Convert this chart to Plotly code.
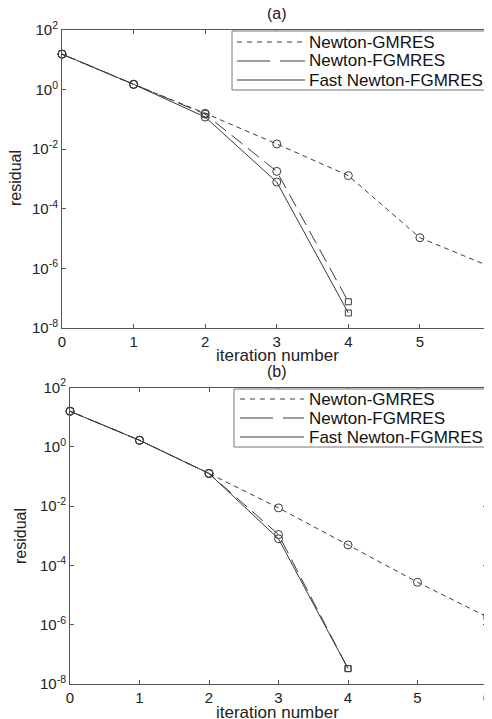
import plotly.graph_objects as go

W, H = 492, 719
OFF = 8  # page body margin offset

iters = [0, 1, 2, 3, 4, 5, 6]
iters_short = [0, 1, 2, 3, 4]

# panel (a)
a_gmres = [15.5, 1.5, 0.16, 0.015, 1.3e-3, 1.07e-5, 1.1e-6]
a_fgmres = [15.5, 1.5, 0.15, 1.8e-3, 7.6e-8]
a_fast = [15.5, 1.5, 0.12, 7.9e-4, 3.2e-8]

# panel (b)
b_gmres = [15.8, 1.66, 0.126, 8.7e-3, 4.9e-4, 2.7e-5, 1.85e-6]
b_fgmres = [15.8, 1.66, 0.126, 1.1e-3, 3.3e-8]
b_fast = [15.8, 1.66, 0.126, 7.9e-4, 3.3e-8]

series_names = ["Newton-GMRES", "Newton-FGMRES", "Fast Newton-FGMRES"]
panel_titles = ["(a)", "(b)"]
x_label = "iteration number"
y_label = "residual"
x_ticks = [0, 1, 2, 3, 4, 5, 6]
y_tickvals = [1e-8, 1e-6, 1e-4, 1e-2, 1e0, 1e2]
y_ticktext = ["10<sup>-8</sup>", "10<sup>-6</sup>", "10<sup>-4</sup>",
              "10<sup>-2</sup>", "10<sup>0</sup>", "10<sup>2</sup>"]

LC = "#3a3a3a"
AX = "#555555"
FONT = "Liberation Sans, Arial, sans-serif"

fig = go.Figure()

def add_panel(xs_g, g, xs_f, f, fa, xa, ya):
    dashes = ["5px,4px", "14px,7px", "solid"]
    data = [(xs_g, g), (xs_f, f), (xs_f, fa)]
    for (xs, ys), d in zip(data, dashes):
        fig.add_trace(go.Scatter(
            x=xs, y=ys, mode="lines", xaxis=xa, yaxis=ya,
            line=dict(color=LC, width=1, dash=d), showlegend=False,
            cliponaxis=False))
        fig.add_trace(go.Scatter(
            x=xs[:-1], y=ys[:-1], mode="markers", xaxis=xa, yaxis=ya,
            marker=dict(symbol="circle-open", size=8, color=LC,
                        line=dict(width=1, color=LC)),
            showlegend=False, cliponaxis=False))
        fig.add_trace(go.Scatter(
            x=xs[-1:], y=ys[-1:], mode="markers", xaxis=xa, yaxis=ya,
            marker=dict(symbol="square-open", size=6, color=LC,
                        line=dict(width=1, color=LC)),
            showlegend=False, cliponaxis=False))

add_panel(iters, a_gmres, iters_short, a_fgmres, a_fast, "x", "y")
add_panel(iters, b_gmres, iters_short, b_fgmres, b_fast, "x2", "y2")

def px_x(p):
    return (p - OFF) / W

def px_y(p):
    return 1 - (p - OFF) / H

axis_common = dict(showline=True, linecolor=AX, linewidth=1, mirror="ticks",
                   ticks="inside", ticklen=4, tickcolor=AX, showgrid=False,
                   zeroline=False, automargin=False,
                   tickfont=dict(family=FONT, size=15, color="#222"))

fig.update_layout(
    width=W, height=H,
    margin=dict(l=0, r=0, t=0, b=0),
    paper_bgcolor="white", plot_bgcolor="white",
    showlegend=False,
    font=dict(family=FONT, color="#222"),
    xaxis=dict(domain=[px_x(62), px_x(491.5)], range=[0, 6],
               tickvals=x_ticks, anchor="y", **axis_common),
    yaxis=dict(domain=[px_y(328), px_y(30)], type="log", range=[-8, 2],
               tickvals=y_tickvals, ticktext=y_ticktext, anchor="x",
               **axis_common),
    xaxis2=dict(domain=[px_x(70), px_x(487)], range=[0, 6],
                tickvals=x_ticks, anchor="y2", **axis_common),
    yaxis2=dict(domain=[px_y(684), px_y(387.5)], type="log", range=[-8, 2],
                tickvals=y_tickvals, ticktext=y_ticktext, anchor="x2",
                **axis_common),
)

annotations = []
shapes = []

def txt(text, x, y, size, color="#222", **kw):
    d = dict(text=text, x=px_x(x), y=px_y(y), xref="paper", yref="paper",
             showarrow=False, xanchor="center", yanchor="middle",
             font=dict(size=size, family=FONT, color=color))
    d.update(kw)
    return d

for title, cx, ty, xly, ylx, yly in [
        (panel_titles[0], 277, 14, 355, 15, 178),
        (panel_titles[1], 277, 372, 712, 20, 536)]:
    annotations.append(txt(title, cx, ty, 16))
    annotations.append(txt(x_label, cx, xly, 17))
    annotations.append(txt(y_label, ylx, yly, 16, textangle=-90))

legend_dash = ["5px,5px", "33px,10px", "solid"]
for (bx0, bx1, by0, by1, rows, sx0, sx1, tx) in [
        (232, 489.5, 31, 90, [42, 61, 80], 237, 305, 307),
        (234, 485, 389, 447, [399, 418, 437], 240, 304, 307)]:
    shapes.append(dict(type="rect", xref="paper", yref="paper",
                       x0=px_x(bx0), x1=px_x(bx1), y0=px_y(by1), y1=px_y(by0),
                       line=dict(color="#777", width=1), fillcolor="white",
                       layer="above"))
    for name, ry, d in zip(series_names, rows, legend_dash):
        shapes.append(dict(type="line", xref="paper", yref="paper",
                           x0=px_x(sx0), x1=px_x(sx1), y0=px_y(ry), y1=px_y(ry),
                           line=dict(color=LC, width=1, dash=d), layer="above"))
        annotations.append(txt(name, tx, ry, 17, color="#111", xanchor="left"))

fig.update_layout(annotations=annotations, shapes=shapes)

fig.write_html("out.html")
